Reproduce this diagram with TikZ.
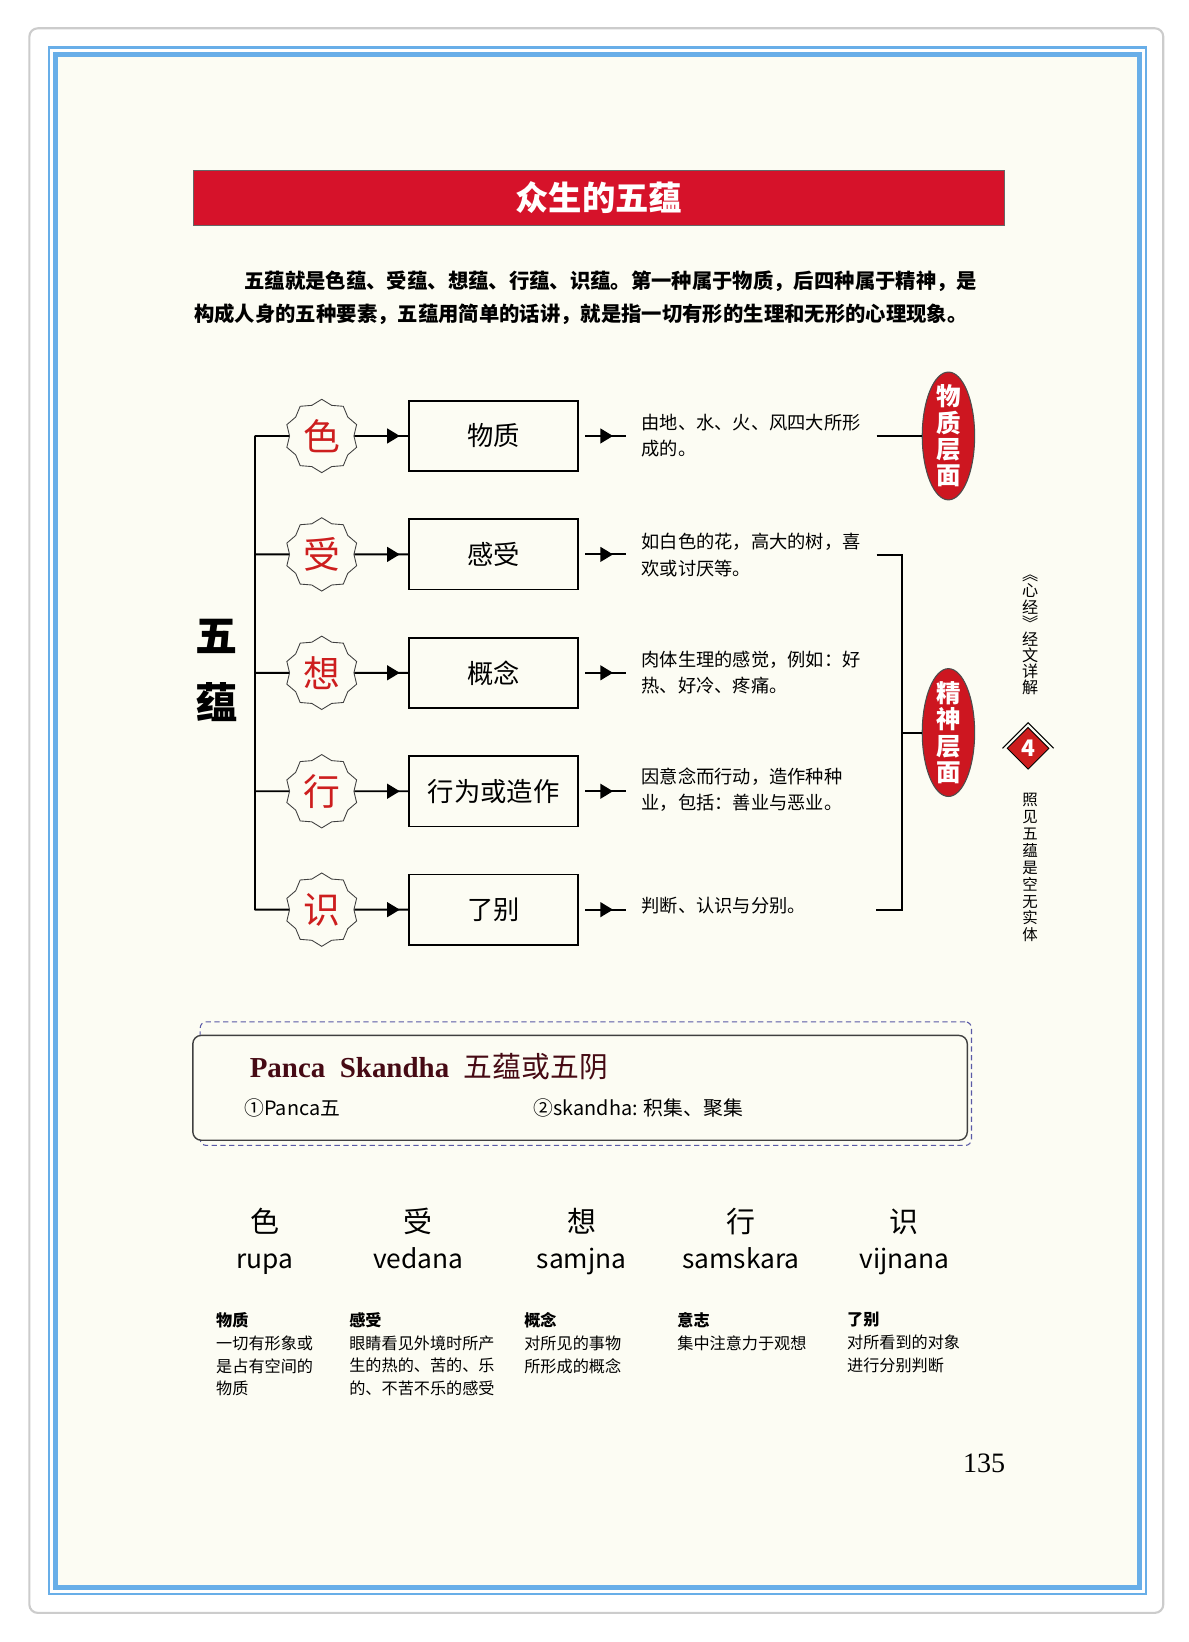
\documentclass[tikz,border=0pt]{standalone}
\usepackage{fontspec}
\setmainfont{Noto Sans CJK SC}
\newfontfamily\serifrm{Liberation Serif}
\usepackage{tikz}
\usetikzlibrary{shapes.geometric,arrows.meta,decorations.markings,positioning}
\definecolor{pagebg}{RGB}{252,252,243}
\definecolor{frameblue}{RGB}{104,174,232}
\definecolor{bannerred}{RGB}{214,18,42}
\definecolor{layerred}{RGB}{205,22,32}
\definecolor{charred}{RGB}{205,30,30}
\definecolor{pkred}{RGB}{70,10,20}
\newlength\px
\setlength\px{0.021cm}
\tikzstyle{ln}=[line width=1.1pt]
\tikzstyle{banner}=[fill=bannerred,draw=black!60,line width=0.5pt,minimum width=773\px,minimum height=52\px,
  text=white,font=\bfseries\fontsize{19}{19}\selectfont]
\tikzstyle{para}=[anchor=west,inner sep=0pt,font=\bfseries\fontsize{11.6}{11.6}\selectfont]
\tikzstyle{skstar}=[star,star points=10,star point ratio=1.14,minimum size=70\px,inner sep=0pt,
  draw=black!75,line width=0.5pt,fill=pagebg,text=charred,font=\fontsize{21}{21}\selectfont]
\tikzstyle{skbox}=[draw,line width=0.9pt,minimum width=161\px,minimum height=67\px,inner sep=0pt,
  font=\fontsize{15}{15}\selectfont]
\tikzstyle{desc}=[anchor=west,align=left,inner xsep=15\px,inner ysep=0pt,font=\fontsize{10.4}{15}\selectfont]
\tikzstyle{layer}=[ellipse,fill=layerred,draw=black!70,line width=0.6pt,minimum width=50\px,minimum height=122\px]
\tikzstyle{layertxt}=[align=center,inner sep=0pt,text=white,font=\bfseries\fontsize{14}{15}\selectfont]
\tikzstyle{tipA}=[postaction={decorate},decoration={markings,
  mark=at position 0.84 with {\arrow{Triangle[length=7.2pt,width=8.4pt]}}}]
\tikzstyle{tipB}=[postaction={decorate},decoration={markings,
  mark=at position 0.73 with {\arrow{Triangle[length=7.2pt,width=8.4pt]}}}]
\tikzstyle{colch}=[anchor=base,inner sep=0pt,font=\fontsize{16.5}{16.5}\selectfont]
\tikzstyle{colrom}=[anchor=base,inner sep=0pt,font=\fontsize{15}{15}\selectfont]
\tikzstyle{coldesc}=[anchor=north west,align=left,inner sep=0pt,font=\fontsize{9.2}{13}\selectfont]

\begin{document}
\begin{tikzpicture}[x=\px,y=-\px]
  \useasboundingbox (0,0) rectangle (1133.6,1566.8);
  \fill[white] (0,0) rectangle (1133.6,1566.8);
  \draw[black!20,line width=1.2pt,rounded corners=8\px,fill=white] (28,27) rectangle (1110,1539);
  \draw[frameblue,line width=1.4pt] (46.5,45.5) rectangle (1093.5,1521);
  \draw[frameblue,line width=3pt,fill=pagebg] (53,52) rectangle (1087,1514.5);

  \node[banner] (ban) at (571.5,189) {众生的五蕴};
  \node[para] (p1) at (233,268) {五蕴就是色蕴、受蕴、想蕴、行蕴、识蕴。第一种属于物质，后四种属于精神，是};
  \node[para] (p2) at (185,300) {构成人身的五种要素，五蕴用简单的话讲，就是指一切有形的生理和无形的心理现象。};

  % five aggregates
  \node[align=center,inner sep=0pt,font=\bfseries\fontsize{24}{38}\selectfont] (wy) at (207,640) {五\\蕴};
  \foreach \i/\y/\c/\t in {1/416/色/物质,2/529/受/感受,3/642/想/概念,4/755/行/行为或造作,5/868/识/了别}{
    \coordinate (t\i) at (243,\y);
    \node[skstar] (s\i) at (307,\y) {\c};
    \node[skbox] (b\i) at (471,\y) {\t};
    \draw[ln] (t\i) -- (s\i);
    \draw[ln,tipA] (s\i) -- (b\i);
  }
  \draw[ln] (t1) -- (t5);

  \node[desc] (d1) at (597,416) {由地、水、火、风四大所形\\成的。};
  \node[desc] (d2) at (597,529.5) {如白色的花，高大的树，喜\\欢或讨厌等。};
  \node[desc] (d3) at (597,642) {肉体生理的感觉，例如：好\\热、好冷、疼痛。};
  \node[desc] (d4) at (597,753.5) {因意念而行动，造作种种\\业，包括：善业与恶业。};
  \node[desc] (d5) at (597,864) {判断、认识与分别。};
  \foreach \i in {1,...,5}
    \draw[ln,tipB,shorten <=3.6pt] (b\i.east) -- (b\i.east -| d\i.west);

  \node[layer] (e1) at (905,416) {};
  \node[layertxt] (e1t) at (e1) {物\\质\\层\\面};
  \node[layer] (e2) at (905,699) {};
  \node[layertxt] (e2t) at (e2) {精\\神\\层\\面};
  \coordinate (kb) at (861,868);
  \coordinate (k5) at (836,868);
  \draw[ln] (d1.east) -- (e1.west);
  \draw[ln] (d2.east) -| (kb) -- (k5);
  \draw[ln] (e2.west) -- (e2.west -| kb);

  % side tab
  \node[align=center,inner sep=0pt,font=\fontsize{9.2}{9.2}\selectfont] (sd1) at (983,606) {︽\\心\\经\\︾\\经\\文\\详\\解};
  \node[diamond,fill=charred,draw=black,line width=0.5pt,minimum size=40\px,inner sep=0pt,
    text=white,font=\bfseries\fontsize{13}{13}\selectfont] (dia) at (981,714) {4};
  \draw[line width=0.6pt] ([xshift=-4\px]dia.west) -- ([yshift=4\px]dia.north) -- ([xshift=4\px]dia.east);
  \node[align=center,inner sep=0pt,font=\fontsize{8.8}{9.6}\selectfont] (sd2) at (983,828)
    {照\\见\\五\\蕴\\是\\空\\无\\实\\体};

  % sanskrit box
  \node[draw=blue!30!gray,densely dashed,line width=0.6pt,rounded corners=6\px,
    minimum width=736\px,minimum height=118\px] (pkf) at (559,1034) {};
  \node[draw=black!75,line width=0.8pt,rounded corners=8\px,fill=pagebg,
    minimum width=739\px,minimum height=100\px] (pk) at (553.5,1038) {};
  \node[anchor=west,inner sep=0pt,text=pkred] (pkt) at (238,1018)
    {{\serifrm\bfseries\fontsize{16.5}{16.5}\selectfont Panca\ \ Skandha}\hspace{14\px}{\fontsize{16.4}{16.4}\selectfont 五蕴或五阴}};
  \node[anchor=west,inner sep=0pt,font=\fontsize{11.3}{11.3}\selectfont] (pk1) at (233,1057) {①Panca五};
  \node[anchor=west,inner sep=0pt,font=\fontsize{11.3}{11.3}\selectfont] (pk2) at (509,1057) {②skandha: 积集、聚集};

  \foreach \x/\c/\r [count=\i] in {253/色/rupa,399/受/vedana,555/想/samjna,707/行/samskara,863/识/vijnana}{
    \node[colch] (c\i) at (\x,1176) {\c};
    \node[colrom] (r\i) at (\x,1210) {\r};
  }
  \foreach \x/\t/\l [count=\i] in {206/物质/{一切有形象或\\是占有空间的\\物质},
      333/感受/{眼睛看见外境时所产\\生的热的、苦的、乐\\的、不苦不乐的感受},
      500/概念/{对所见的事物\\所形成的概念},
      646/意志/{集中注意力于观想},
      808/了别/{对所看到的对象\\进行分别判断}}
    \node[coldesc] (q\i) at (\x,1252) {\textbf{\t}\\\l};

  \node[inner sep=0pt,font=\serifrm\fontsize{16}{16}\selectfont] (pg) at (939,1396) {135};
\end{tikzpicture}
\end{document}
